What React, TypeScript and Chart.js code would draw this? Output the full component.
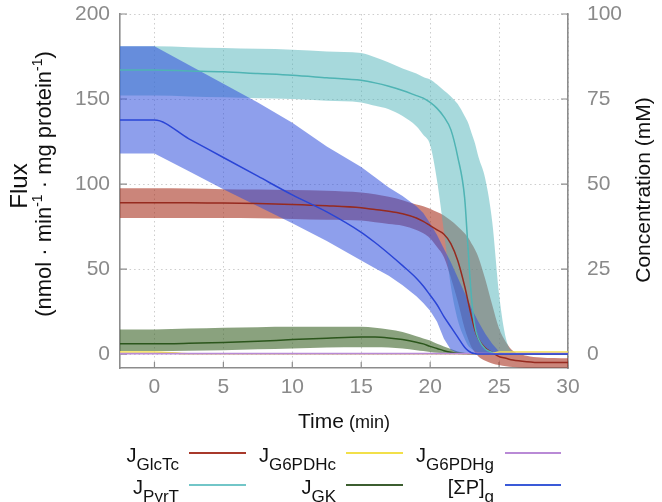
import React, { useEffect, useRef } from 'react';
import { Chart, registerables } from 'chart.js';

Chart.register(...registerables);

const FONT = '"Liberation Sans", Arial, Helvetica, sans-serif';

// ---------------- data ----------------
const TIME = [-2.5, 0, 2.5, 5, 7.5, 10, 12.5, 15, 16, 17, 18, 19, 19.5, 20, 20.5, 21, 21.5, 22, 22.5, 22.75, 23, 23.25, 23.5, 24, 24.5, 25, 25.5, 26, 27, 28, 30];
const X_TICKS = [0, 5, 10, 15, 20, 25, 30];
const FLUX_TICKS = [0, 50, 100, 150, 200];
const CONC_TICKS = [0, 25, 50, 75, 100];

// J_GlcTc (flux)
const GLCTC_MID = [89, 89, 89, 88.8, 88.5, 88, 87.2, 86, 85, 84, 82.5, 80, 78, 75.5, 73, 70.5, 65, 55, 40, 31, 22, 14, 9, 3.5, 1, -1.5, -2.5, -3.5, -4.5, -5, -5];
const GLCTC_HI = [97.5, 97.5, 97.3, 97, 96.8, 96.5, 96, 95, 94, 92.5, 90.5, 88, 87, 85.5, 83.5, 81.5, 78.5, 75, 71, 68.5, 65, 61.5, 57, 44, 29, 15, 7, 2, -1, -2, -2.5];
const GLCTC_LO = [80, 80, 80, 80, 79.8, 79.5, 79, 78.5, 77.5, 76.5, 75.5, 73, 71, 68, 63, 57, 45, 31, 15, 9, 4, 1, -1.5, -4, -5.5, -6.5, -7.2, -7.6, -8, -8, -8];

// J_PyrT (flux)
const PYRT_MID = [167, 167, 166.5, 166, 165, 164, 162.5, 161, 159.5, 157.5, 155, 152, 150.5, 148, 144.5, 139.5, 132, 116, 92, 62, 33, 16, 9, 3, 1, 0.3, 0, 0, 0, 0, 0];
const PYRT_HI = [181, 181, 180.5, 180, 179.5, 179, 178, 177, 174.5, 171.5, 168, 165, 163, 161.5, 158.5, 155, 151.5, 147, 140, 136, 130, 124, 116, 103, 78, 35, 9, 1.5, 0, 0, 0];
const PYRT_LO = [152, 152, 151.5, 151, 150.5, 150, 149, 148, 146, 144, 140, 134, 129, 123, 102, 72, 40, 20, 9, 5, 3, 2, 1, 0.5, 0, 0, 0, 0, 0, 0, 0];

// J_G6PDHc, J_G6PDHg (flux)
const G6PDHC = [1.2, 1.2, 0.2, 0.2, 0.2, 0.2, 0.2, 0.2, 0.2, 0.2, 0.2, 0.2, 0.2, 0.2, 0.2, 0.2, 0.2, 0.2, 0.2, 0.2, 0.2, 0.2, 0.2, 0.2, 0.2, 1.2, 1.2, 1.2, 1.2, 1.2, 1.2];
const G6PDHG = [0.2, 0.2, 0.2, 0.2, 0.2, 0.2, 0.2, 0.2, 0.2, 0.2, 0.2, 0.2, 0.2, 0.2, 0.2, 0.2, 0.2, 0.2, 0.2, 0.2, 0.2, 0.2, 0.2, 0.2, 0.2, 0.2, 0.2, 0.2, 0.2, 0.2, 0.2];

// J_GK (flux)
const GK_MID = [6, 6, 6.3, 6.8, 7.5, 8.5, 9.3, 10, 10, 9.5, 8.5, 7, 6, 4.5, 3.3, 2, 1, 0.5, 0.2, 0.1, 0, 0, 0, 0, 0, 0, 0, 0, 0, 0, 0];
const GK_HI = [14.5, 14.5, 15, 15.5, 15.8, 16, 16, 16, 15.5, 14.5, 13, 10.5, 9.2, 8, 6, 4.5, 3, 1.5, 0.8, 0.5, 0.3, 0.2, 0.1, 0, 0, 0, 0, 0, 0, 0, 0];
const GK_LO = [1.8, 1.8, 2, 2.3, 2.8, 3.3, 3.8, 4, 4, 3.8, 3.2, 2.3, 1.8, 1.2, 0.7, 0.3, 0.1, 0, 0, 0, 0, 0, 0, 0, 0, 0, 0, 0, 0, 0, 0];

// [ΣP]g (concentration, mM)
const SP_MID = [68.8, 68.8, 63.3, 57.8, 52.3, 46.8, 41.8, 35.8, 32.8, 29.5, 26, 22.3, 20, 17.3, 14.5, 11, 8, 5, 2, 1, 0.4, 0.15, 0, 0, 0, 0, 0, 0, 0, 0, 0];
const SP_HI = [90.5, 90.5, 85, 79.5, 74, 68, 61, 55, 52, 49, 46.5, 43.5, 41.5, 38.5, 35, 31, 27, 22.5, 18, 16, 13.5, 11.5, 9.5, 6, 3, 0.75, 0.15, 0, 0, 0, 0];
const SP_LO = [59, 59, 53.75, 48.5, 43.5, 38.5, 33.25, 27.5, 25.25, 23, 20.25, 17, 15, 12.75, 9.5, 4.5, 1.25, 0.25, 0, 0, 0, 0, 0, 0, 0, 0, 0, 0, 0, 0, 0];

// ---------------- styles ----------------
const C_RED = '#962a1f';
const C_CYAN = '#4fb4b4';
const C_YELLOW = '#f2e04a';
const C_PURPLE = '#b98ad6';
const C_GREEN = '#2b561c';
const C_BLUE = '#2a45d6';
const F_RED = 'rgba(165,45,25,0.58)';
const F_CYAN = 'rgba(80,180,185,0.5)';
const F_GREEN = 'rgba(60,100,40,0.6)';
const F_BLUE = 'rgba(50,80,220,0.55)';
const AXIS = '#8c8c8c';
const GRID = '#cdcdcd';
const TICK_COLOR = '#8a8a8a';

const LEGEND = [
  { main: 'J', sub: 'GlcTc', color: '#a8392b', row: 0, col: 0 },
  { main: 'J', sub: 'G6PDHc', color: C_YELLOW, row: 0, col: 1 },
  { main: 'J', sub: 'G6PDHg', color: C_PURPLE, row: 0, col: 2 },
  { main: 'J', sub: 'PyrT', color: '#72c6c8', row: 1, col: 0 },
  { main: 'J', sub: 'GK', color: '#3c5e30', row: 1, col: 1 },
  { main: '[ΣP]', sub: 'g', color: '#3a5ad8', row: 1, col: 2 },
];
const LEG_TEXT_RIGHT = [179, 336, 494];
const LEG_LINE_X = [[189, 246], [346, 403], [505, 561]];
const LEG_ROW_Y = [453, 485];

type Seg = { t: string; size: number; dy?: number };

function drawRich(ctx: CanvasRenderingContext2D, segs: Seg[], x: number, y: number, align: 'left' | 'center' | 'right', angle = 0, color = '#111') {
  ctx.save();
  ctx.translate(x, y);
  ctx.rotate(angle);
  ctx.fillStyle = color;
  ctx.textBaseline = 'alphabetic';
  ctx.textAlign = 'left';
  let w = 0;
  for (const s of segs) {
    ctx.font = `${s.size}px ${FONT}`;
    w += ctx.measureText(s.t).width;
  }
  let cx = align === 'center' ? -w / 2 : align === 'right' ? -w : 0;
  for (const s of segs) {
    ctx.font = `${s.size}px ${FONT}`;
    ctx.fillText(s.t, cx, s.dy || 0);
    cx += ctx.measureText(s.t).width;
  }
  ctx.restore();
}

const decorPlugin = {
  id: 'decor',
  beforeDatasetsDraw(chart: any) {
    const { ctx, chartArea } = chart;
    const { left, right, bottom } = chartArea;
    const xs = chart.scales.x;
    const yl = chart.scales.y;
    const yr = chart.scales.y2;
    ctx.save();
    ctx.strokeStyle = AXIS;
    ctx.lineWidth = 1.2;
    ctx.beginPath();
    for (const v of X_TICKS) {
      const px = xs.getPixelForValue(v);
      ctx.moveTo(px, bottom);
      ctx.lineTo(px, bottom - 6);
    }
    for (const v of FLUX_TICKS) {
      const py = yl.getPixelForValue(v);
      ctx.moveTo(left, py);
      ctx.lineTo(left + 7, py);
    }
    for (const v of CONC_TICKS) {
      const py = yr.getPixelForValue(v);
      ctx.moveTo(right, py);
      ctx.lineTo(right - 7, py);
    }
    ctx.stroke();
    ctx.restore();
  },
  afterDraw(chart: any) {
    const ctx: CanvasRenderingContext2D = chart.ctx;
    // axis titles
    drawRich(ctx, [{ t: 'Flux', size: 24 }], 27, 186, 'center', -Math.PI / 2);
    drawRich(ctx, [
      { t: '(nmol · min', size: 22 },
      { t: '-1', size: 14, dy: -9 },
      { t: ' · mg protein', size: 22 },
      { t: '-1', size: 14, dy: -9 },
      { t: ')', size: 22 },
    ], 51, 184, 'center', -Math.PI / 2);
    drawRich(ctx, [{ t: 'Concentration (mM)', size: 21 }], 650, 190, 'center', -Math.PI / 2);
    drawRich(ctx, [{ t: 'Time', size: 21 }, { t: ' (min)', size: 18 }], 344, 428, 'center');
    // legend
    for (const it of LEGEND) {
      const ly = LEG_ROW_Y[it.row];
      drawRich(ctx, [{ t: it.main, size: 20 }, { t: it.sub, size: 17, dy: 8 }], LEG_TEXT_RIGHT[it.col], ly + 9, 'right');
      ctx.save();
      ctx.strokeStyle = it.color;
      ctx.lineWidth = 2;
      ctx.beginPath();
      ctx.moveTo(LEG_LINE_X[it.col][0], ly);
      ctx.lineTo(LEG_LINE_X[it.col][1], ly);
      ctx.stroke();
      ctx.restore();
    }
  },
};

const pts = (ys: number[]) => TIME.map((t, i) => ({ x: t, y: ys[i] }));

function band(lo: number[], hi: number[], fill: string, axis: string, order: number, smooth = true) {
  const mode = smooth ? 'monotone' : 'default';
  const tension = smooth ? 0.4 : 0;
  return [
    { data: pts(lo), yAxisID: axis, borderWidth: 0, borderColor: 'transparent', pointRadius: 0, fill: false, order, cubicInterpolationMode: mode, tension },
    { data: pts(hi), yAxisID: axis, borderWidth: 0, borderColor: 'transparent', backgroundColor: fill, pointRadius: 0, fill: '-1', order, cubicInterpolationMode: mode, tension },
  ];
}

function line(ys: number[], color: string, axis: string, order: number, width = 1.5, smooth = true) {
  return {
    data: pts(ys), yAxisID: axis, borderColor: color, borderWidth: width, pointRadius: 0, fill: false, order,
    cubicInterpolationMode: smooth ? 'monotone' : 'default', tension: smooth ? 0.4 : 0,
  };
}

export default function App() {
  const ref = useRef<HTMLCanvasElement>(null);
  useEffect(() => {
    if (!ref.current) return;
    const datasets: any[] = [
      ...band(GLCTC_LO, GLCTC_HI, F_RED, 'y', 13),
      ...band(PYRT_LO, PYRT_HI, F_CYAN, 'y', 12),
      ...band(GK_LO, GK_HI, F_GREEN, 'y', 11),
      ...band(SP_LO, SP_HI, F_BLUE, 'y2', 10, false),
      line(GLCTC_MID, C_RED, 'y', 5),
      line(PYRT_MID, C_CYAN, 'y', 4),
      line(GK_MID, C_GREEN, 'y', 3),
      line(G6PDHC, C_YELLOW, 'y', 2, 1.6),
      line(G6PDHG, C_PURPLE, 'y', 1, 1.8),
      line(SP_MID, C_BLUE, 'y2', 0),
    ];
    const tickFont = { size: 21, family: FONT };
    const chart = new Chart(ref.current, {
      type: 'line',
      data: { datasets },
      options: {
        responsive: false,
        devicePixelRatio: 1,
        animation: false,
        events: [],
        layout: { padding: { top: 14, left: 0, right: 0, bottom: 0 } },
        elements: { point: { radius: 0 } },
        plugins: { legend: { display: false }, tooltip: { enabled: false } },
        scales: {
          x: {
            type: 'linear',
            min: -2.5,
            max: 30,
            afterBuildTicks: (s: any) => { s.ticks = X_TICKS.map((v) => ({ value: v })); },
            afterFit: (s: any) => { s.height = 134; s.paddingLeft = 0; s.paddingRight = 0; },
            grid: { color: GRID, lineWidth: 1, drawTicks: false },
            border: { display: true, color: AXIS, width: 1.6, dash: [1.5, 3] },
            ticks: { font: tickFont, color: TICK_COLOR, padding: 7, maxRotation: 0 },
          },
          y: {
            type: 'linear',
            position: 'left',
            min: -8.2,
            max: 200,
            afterBuildTicks: (s: any) => { s.ticks = FLUX_TICKS.map((v) => ({ value: v })); },
            afterFit: (s: any) => { s.width = 120; s.paddingTop = 0; s.paddingBottom = 0; },
            grid: { color: GRID, lineWidth: 1, drawTicks: false },
            border: { display: true, color: AXIS, width: 1.6, dash: [1.5, 3] },
            ticks: { font: tickFont, color: TICK_COLOR, padding: 10 },
          },
          y2: {
            type: 'linear',
            position: 'right',
            min: -4.1,
            max: 100,
            afterBuildTicks: (s: any) => { s.ticks = CONC_TICKS.map((v) => ({ value: v })); },
            afterFit: (s: any) => { s.width = 94; s.paddingTop = 0; s.paddingBottom = 0; },
            grid: { display: false, drawTicks: false },
            border: { display: true, color: AXIS, width: 1.6 },
            ticks: { font: tickFont, color: TICK_COLOR, padding: 19 },
          },
        },
      } as any,
      plugins: [decorPlugin],
    });
    return () => chart.destroy();
  }, []);
  return (
    <div style={{ position: 'fixed', left: 0, top: 0, width: 662, height: 502, background: '#fff' }}>
      <canvas ref={ref} width={662} height={502} style={{ display: 'block', width: 662, height: 502 }} />
    </div>
  );
}
